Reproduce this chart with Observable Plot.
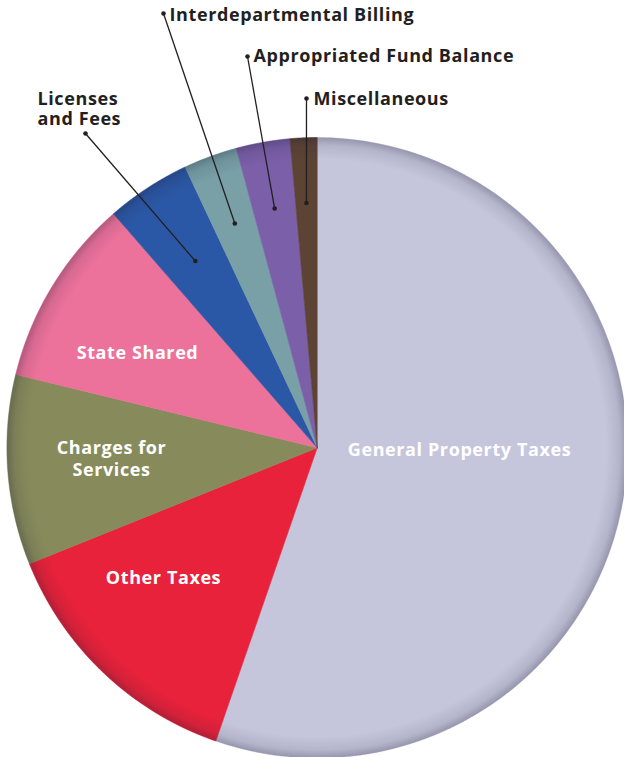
<!DOCTYPE html>
<html>
<head>
<meta charset="utf-8">
<script src="https://cdn.jsdelivr.net/npm/d3@7"></script>
<script src="https://cdn.jsdelivr.net/npm/@observablehq/plot@0.6"></script>
<style>
  html, body { margin: 0; padding: 0; background: #fff; }
  #chart svg { display: block; }
</style>
</head>
<body>
<svg width="0" height="0" style="position:absolute">
  <defs>
    <radialGradient id="rim" cx="50%" cy="50%" r="50%">
      <stop offset="0.93" stop-color="#1a1a33" stop-opacity="0"></stop>
      <stop offset="0.975" stop-color="#1a1a33" stop-opacity="0.1"></stop>
      <stop offset="1" stop-color="#1a1a33" stop-opacity="0.28"></stop>
    </radialGradient>
  </defs>
</svg>
<div id="chart"></div>
<script>
// ---- data ----
const categories = [
  "General Property Taxes", "Other Taxes", "Charges for Services", "State Shared",
  "Licenses and Fees", "Interdepartmental Billing", "Appropriated Fund Balance", "Miscellaneous"
];
const shares = [55.3, 13.6, 9.9, 9.8, 4.4, 2.8, 2.8, 1.4];
const colors = ["#c5c6dc", "#e8223a", "#878b5b", "#ed729b", "#2b58a6", "#78a0a6", "#7b5fa9", "#5c4334"];

// inside labels (white)
const insideLabels = ["General Property Taxes", "Other Taxes", "Charges for\nServices", "State Shared"];
// outside labels (dark, with leaders)
const outsideLabels = ["Licenses\nand Fees", "Interdepartmental Billing", "Appropriated Fund Balance", "Miscellaneous"];

// ---- layout (annotation geometry) ----
const W = 624, H = 757;
const CX = 316.7, CY = 447.3, R = 310.3;
const toX = px => px - CX, toY = py => CY - py;

const insidePos = [[459, 448], [163, 576], [111, 457], [137, 351]];
const outsideText = [[37, 108], [169, 14], [253, 55], [313, 98]];
const outsideDot = [[85, 133], [163, 13], [247, 56], [306, 98]];
const innerRadius = [223, 239, 243, 245];
const outsideIdx = [4, 5, 6, 7];

// ---- build slice polygons from the data ----
const arcs = d3.pie().sort(null).value(d => d)(shares);
const slicePts = [];
arcs.forEach((a, i) => {
  const n = Math.max(8, Math.ceil((a.endAngle - a.startAngle) / (Math.PI / 720)));
  slicePts.push({cat: categories[i], x: 0, y: 0});
  for (let k = 0; k <= n; k++) {
    const t = a.startAngle + (a.endAngle - a.startAngle) * k / n;
    slicePts.push({cat: categories[i], x: R * Math.sin(t), y: R * Math.cos(t)});
  }
  slicePts.push({cat: categories[i], x: 0, y: 0});
});

const inside = insideLabels.map((t, i) => ({text: t, x: toX(insidePos[i][0]), y: toY(insidePos[i][1])}));
const outside = outsideLabels.map((t, i) => ({text: t, x: toX(outsideText[i][0]), y: toY(outsideText[i][1])}));
const leaders = outsideIdx.map((ci, i) => {
  const a = arcs[ci];
  const m = (a.startAngle + a.endAngle) / 2;
  return {
    x1: toX(outsideDot[i][0]), y1: toY(outsideDot[i][1]),
    x2: innerRadius[i] * Math.sin(m), y2: innerRadius[i] * Math.cos(m)
  };
});
const dots = leaders.flatMap(l => [{x: l.x1, y: l.y1}, {x: l.x2, y: l.y2}]);

const font = "'Open Sans', Lato, sans-serif";

const chart = Plot.plot({
  width: W,
  height: H,
  margin: 0,
  x: {domain: [toX(0), toX(W)], axis: null},
  y: {domain: [toY(H), toY(0)], axis: null},
  color: {domain: categories, range: colors},
  style: {fontFamily: font, background: "transparent", overflow: "visible", letterSpacing: "0.6px"},
  marks: [
    Plot.line(slicePts, {x: "x", y: "y", z: "cat", fill: "cat", stroke: "cat", strokeWidth: 0.6, curve: "linear"}),
    Plot.dot([{x: 0, y: 0}], {x: "x", y: "y", r: R, fill: "url(#rim)", stroke: null}),
    Plot.link(leaders, {x1: "x1", y1: "y1", x2: "x2", y2: "y2", stroke: "#231f20", strokeWidth: 1.3}),
    Plot.dot(dots, {x: "x", y: "y", r: 2.3, fill: "#231f20", stroke: null}),
    Plot.text(inside, {x: "x", y: "y", text: "text", fill: "#ffffff", fontSize: 18, fontWeight: 700, lineHeight: 1.22, textAnchor: "middle"}),
    Plot.text(outside, {x: "x", y: "y", text: "text", fill: "#231f20", fontSize: 18, fontWeight: 700, lineHeight: 1.11, textAnchor: "start"})
  ]
});
document.getElementById("chart").appendChild(chart);
</script>
</body>
</html>
